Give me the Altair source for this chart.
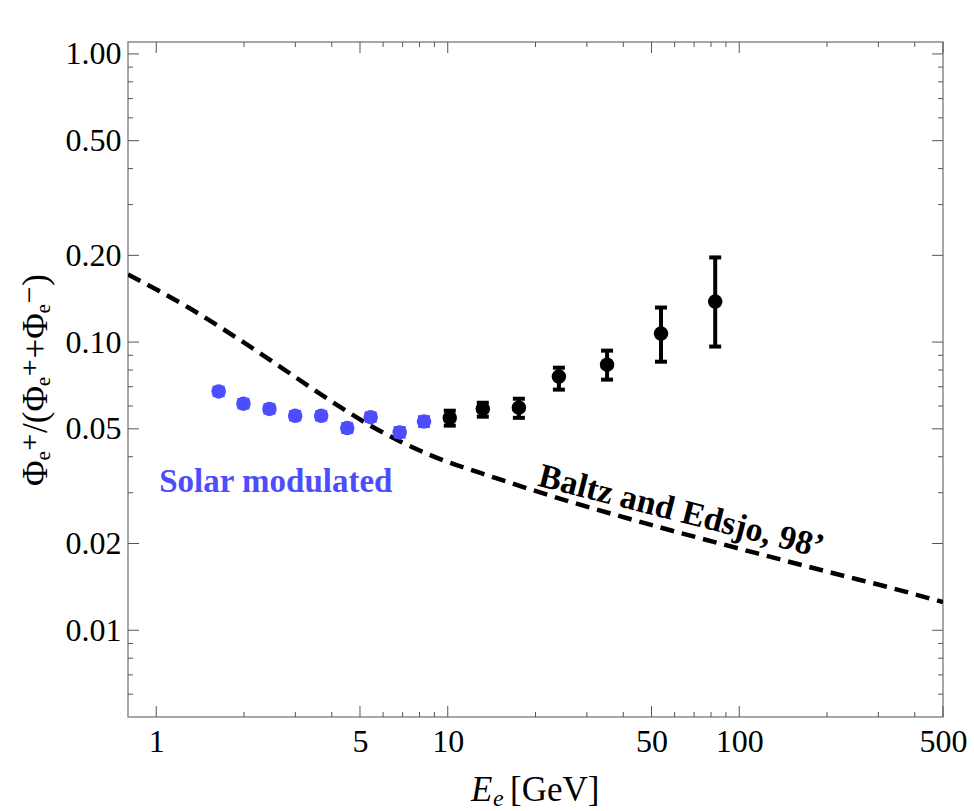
import altair as alt
import pandas as pd

# ---------------- data ----------------
curve_E = [0.8, 1.024, 1.298, 1.646, 2.087, 2.647, 3.357, 4.256, 5.395, 6.84, 8.673,
           14.74, 24.85, 42.2, 71.7, 120.9, 205.4, 349, 500]
curve_R = [0.1715, 0.1503, 0.1313, 0.1131, 0.0968, 0.0824, 0.0700, 0.0597, 0.0515, 0.0453, 0.0406,
           0.03365, 0.02842, 0.02432, 0.02099, 0.01825, 0.01587, 0.01384, 0.01252]

solar_E = [1.637, 1.991, 2.445, 2.996, 3.68, 4.52, 5.44, 6.84, 8.29]
solar_R = [0.0674, 0.0611, 0.0586, 0.0555, 0.0555, 0.0503, 0.0549, 0.0486, 0.0530]
solar_lo = [0.0652, 0.0591, 0.0567, 0.0537, 0.0537, 0.0486, 0.0531, 0.0468, 0.0510]
solar_hi = [0.0697, 0.0632, 0.0606, 0.0574, 0.0574, 0.0521, 0.0568, 0.0505, 0.0551]

pam_E = [10.16, 13.19, 17.54, 24.06, 35.2, 53.9, 82.7]
pam_R = [0.0546, 0.0587, 0.0592, 0.0759, 0.0835, 0.1071, 0.1383]
pam_lo = [0.0513, 0.0551, 0.0546, 0.0684, 0.0741, 0.0855, 0.0965]
pam_hi = [0.0578, 0.0616, 0.0636, 0.0815, 0.0934, 0.1318, 0.1967]

x_major = [1, 5, 10, 50, 100, 500]
x_minor = [2, 3, 4, 6, 7, 8, 9, 20, 30, 40, 60, 70, 80, 90, 200, 300, 400]
y_major = [0.01, 0.02, 0.05, 0.1, 0.2, 0.5, 1.0]
y_minor = [0.006, 0.007, 0.008, 0.009, 0.03, 0.04, 0.06, 0.07, 0.08, 0.09,
           0.3, 0.4, 0.6, 0.7, 0.8, 0.9]

solar_label = "Solar modulated"
curve_label = "Baltz and Edsjo, 98\u2019"
y_title = "\u03a6\u2091\u207a/(\u03a6\u2091\u207a+\u03a6\u2091\u207b)"

# ---------------- style ----------------
W, H = 815, 675
SERIF = "Liberation Serif, Times New Roman, DejaVu Serif, serif"
BLUE = "#4D4DFF"
TICK = "#555555"
MAJ, MIN = 11, 5

xs = alt.Scale(type="log", domain=[0.8, 500], nice=False)
ys = alt.Scale(type="log", domain=[0.005, 1.1], nice=False)

curve_df = pd.DataFrame({"E": curve_E, "R": curve_R})
solar_df = pd.DataFrame({"E": solar_E, "R": solar_R, "lo": solar_lo, "hi": solar_hi})
pam_df = pd.DataFrame({"E": pam_E, "R": pam_R, "lo": pam_lo, "hi": pam_hi})

x_axis = alt.Axis(values=x_major, format="d", ticks=False, grid=False, domain=False,
                  labelFont=SERIF, labelFontSize=32, labelColor="black",
                  labelPadding=9, labelFlush=False, labelOverlap=False, title=None)
y_axis = alt.Axis(values=y_major, format=".2f", ticks=False, grid=False, domain=False,
                  labelFont=SERIF, labelFontSize=32, labelColor="black",
                  labelPadding=7, labelOverlap=False, title=y_title,
                  titleFont=SERIF, titleFontSize=35, titleFontWeight="normal",
                  titleColor="black", titlePadding=12)


def X(field):
    return alt.X(field, scale=xs, axis=x_axis)


def Y(field):
    return alt.Y(field, scale=ys, axis=y_axis)


curve = alt.Chart(curve_df).mark_line(
    color="black", strokeWidth=4.5, strokeDash=[14, 8], interpolate="monotone", clip=True
).encode(x=X("E:Q"), y=Y("R:Q"))


def errbars(df, color, width, cap, size):
    bar = alt.Chart(df).mark_rule(color=color, strokeWidth=width, opacity=1).encode(
        x=X("E:Q"), y=Y("lo:Q"), y2="hi:Q")
    top = alt.Chart(df).mark_tick(color=color, orient="horizontal", size=cap,
                                  thickness=width, opacity=1).encode(x=X("E:Q"), y=Y("hi:Q"))
    bot = alt.Chart(df).mark_tick(color=color, orient="horizontal", size=cap,
                                  thickness=width, opacity=1).encode(x=X("E:Q"), y=Y("lo:Q"))
    pts = alt.Chart(df).mark_circle(color=color, opacity=1, size=size).encode(
        x=X("E:Q"), y=Y("R:Q"))
    return [bar, top, bot, pts]


# frame ticks (inside, on all four sides)
def xticks(vals, length):
    df = pd.DataFrame({"E": vals})
    b = alt.Chart(df).mark_rule(color=TICK, strokeWidth=1).encode(
        x=X("E:Q"), y=alt.value(H), y2=alt.value(H - length))
    t = alt.Chart(df).mark_rule(color=TICK, strokeWidth=1).encode(
        x=X("E:Q"), y=alt.value(0), y2=alt.value(length))
    return [b, t]


def yticks(vals, length):
    df = pd.DataFrame({"R": vals})
    l = alt.Chart(df).mark_rule(color=TICK, strokeWidth=1).encode(
        y=Y("R:Q"), x=alt.value(0), x2=alt.value(length))
    r = alt.Chart(df).mark_rule(color=TICK, strokeWidth=1).encode(
        y=Y("R:Q"), x=alt.value(W), x2=alt.value(W - length))
    return [l, r]


ticks = xticks(x_major, MAJ) + xticks(x_minor, MIN) + yticks(y_major, MAJ) + yticks(y_minor, MIN)

solar_text = alt.Chart(pd.DataFrame({"E": [1.024], "R": [0.0302], "t": [solar_label]})).mark_text(
    align="left", baseline="alphabetic", font=SERIF, fontSize=33, fontWeight="bold", color=BLUE
).encode(x=X("E:Q"), y=Y("R:Q"), text="t:N")

curve_text = alt.Chart(pd.DataFrame({"E": [62.0], "R": [0.0238], "t": [curve_label]})).mark_text(
    align="center", baseline="alphabetic", font=SERIF, fontSize=34, fontWeight="bold",
    color="black", angle=14.3
).encode(x=X("E:Q"), y=Y("R:Q"), text="t:N")

# x axis title: italic E with italic subscript e, then [GeV]
one = pd.DataFrame({"k": [0]})
t_E = alt.Chart(one).mark_text(align="left", baseline="alphabetic", font=SERIF, fontSize=35,
                               fontStyle="italic", color="black").encode(
    x=alt.value(343), y=alt.value(759), text=alt.value("E"))
t_e = alt.Chart(one).mark_text(align="left", baseline="alphabetic", font=SERIF, fontSize=24,
                               fontStyle="italic", color="black").encode(
    x=alt.value(365), y=alt.value(764), text=alt.value("e"))
t_G = alt.Chart(one).mark_text(align="left", baseline="alphabetic", font=SERIF, fontSize=35,
                               color="black").encode(
    x=alt.value(382), y=alt.value(759), text=alt.value("[GeV]"))

layers = [curve] + ticks + errbars(solar_df, BLUE, 3, 12, 210) + \
         errbars(pam_df, "black", 4, 12, 210) + [solar_text, curve_text, t_E, t_e, t_G]

chart = alt.layer(*layers).properties(
    width=W, height=H,
    autosize=alt.AutoSizeParams(type="none"),
    padding={"left": 128, "top": 42, "right": 31, "bottom": 94},
    background="white",
).configure_view(stroke="#8a8a8a", strokeWidth=1.5)

chart.save("out.html", embed_options={"renderer": "svg", "actions": False})
